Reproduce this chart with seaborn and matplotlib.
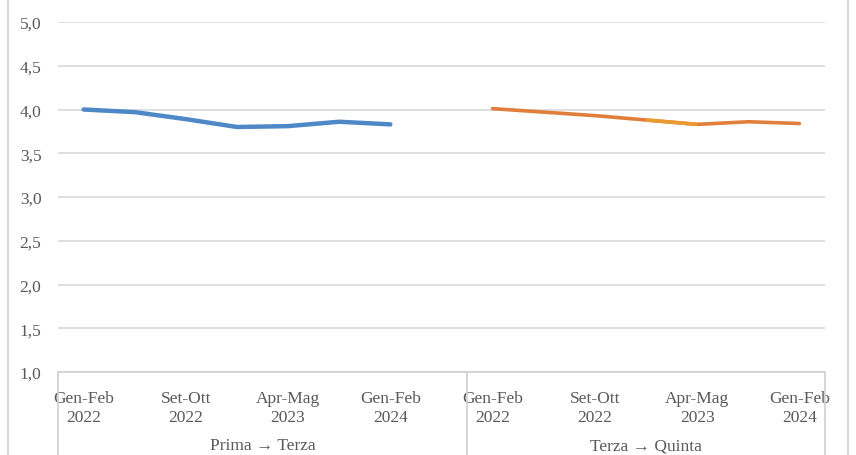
import numpy as np
import pandas as pd
import matplotlib
matplotlib.use("Agg")
import matplotlib.pyplot as plt
import matplotlib.transforms as mtransforms
from matplotlib.lines import Line2D
import seaborn as sns

# ---- data ----
periods = ["Gen-Feb 2022", "Apr-Mag 2022", "Set-Ott 2022", "Gen-Feb 2023",
           "Apr-Mag 2023", "Set-Ott 2023", "Gen-Feb 2024"]
groups = ["Prima \u2192 Terza", "Terza \u2192 Quinta"]
prima_terza = [4.00, 3.97, 3.89, 3.80, 3.81, 3.86, 3.83]
terza_quinta = [4.01, 3.97, 3.93, 3.88, 3.83, 3.86, 3.84]
shown_labels = ["Gen-Feb\n2022", "Set-Ott\n2022", "Apr-Mag\n2023", "Gen-Feb\n2024"]
y_ticks = [1.0, 1.5, 2.0, 2.5, 3.0, 3.5, 4.0, 4.5, 5.0]

# slot layout: group 1 has 7 periods + one empty slot, group 2 has 7 periods
n = len(periods)
pos1 = list(range(n))
pos2 = list(range(n + 1, 2 * n + 1))
df = pd.DataFrame({
    "pos": pos1 + pos2,
    "value": prima_terza + terza_quinta,
    "series": [groups[0]] * n + [groups[1]] * n,
})

sns.set_theme(style="white")
plt.rcParams["font.family"] = ["Liberation Serif", "DejaVu Serif"]

fig = plt.figure(figsize=(8.56, 4.56), dpi=100)
W, H = 856, 456
ax = fig.add_axes([58 / W, 1 - 373 / H, (825 - 58) / W, (373 - 23) / H])

blue = "#4F88C6"
orange = "#E07E3A"
sns.lineplot(data=df[df.series == groups[0]], x="pos", y="value",
             color=blue, linewidth=3.2, ax=ax, legend=False)
sns.lineplot(data=df[df.series == groups[1]], x="pos", y="value",
             color=orange, linewidth=2.6, ax=ax, legend=False)
# highlighted segment (yellowish) in second series
seg = df[df.series == groups[1]].iloc[3:5]
ax.plot(seg["pos"], seg["value"], color="#E99A30", linewidth=2.6,
        solid_capstyle="butt")

txt = "#595959"
fs = 12.5
ax.set_xlim(-0.5, 2 * n + 0.5)
ax.set_ylim(1.0, 5.0)
ax.set_yticks(y_ticks)
ax.set_yticklabels([f"{v:.1f}".replace(".", ",") for v in y_ticks],
                   fontsize=fs, color=txt)
ax.grid(axis="y", color="#D9D9D9", linewidth=1.2)
ax.set_axisbelow(True)
for s in ["top", "right", "left"]:
    ax.spines[s].set_visible(False)
ax.spines["bottom"].set_color("#D0D0D0")
ax.spines["bottom"].set_linewidth(1.2)
ax.tick_params(axis="y", length=0, pad=12)

tick_pos = pos1[::2] + pos2[::2]
ax.set_xticks(tick_pos)
ax.set_xticklabels(shown_labels * 2, fontsize=fs, color=txt,
                   linespacing=1.25)
ax.tick_params(axis="x", length=0, pad=13)
ax.set_xlabel("")
ax.set_ylabel("")

# group separators and group labels
trans = mtransforms.blended_transform_factory(ax.transData, ax.transAxes)
for xs in [-0.5, n + 0.5, 2 * n + 0.5]:
    ax.add_line(Line2D([xs, xs], [0, -0.3], transform=trans, color="#D0D0D0",
                       linewidth=1.2, clip_on=False))
ax.text((-0.5 + n + 0.5) / 2, -0.21, groups[0], transform=trans,
        ha="center", va="center", fontsize=fs, color=txt)
ax.text((n + 0.5 + 2 * n + 0.5) / 2, -0.21, groups[1], transform=trans,
        ha="center", va="center", fontsize=fs, color=txt)

# chart area border (cropped)
for xf in [8 / W, 848 / W]:
    fig.add_artist(Line2D([xf, xf], [0, 1], transform=fig.transFigure,
                          color="#D9D9D9", linewidth=1.5))

fig.savefig("out.png", dpi=100, facecolor="white")
